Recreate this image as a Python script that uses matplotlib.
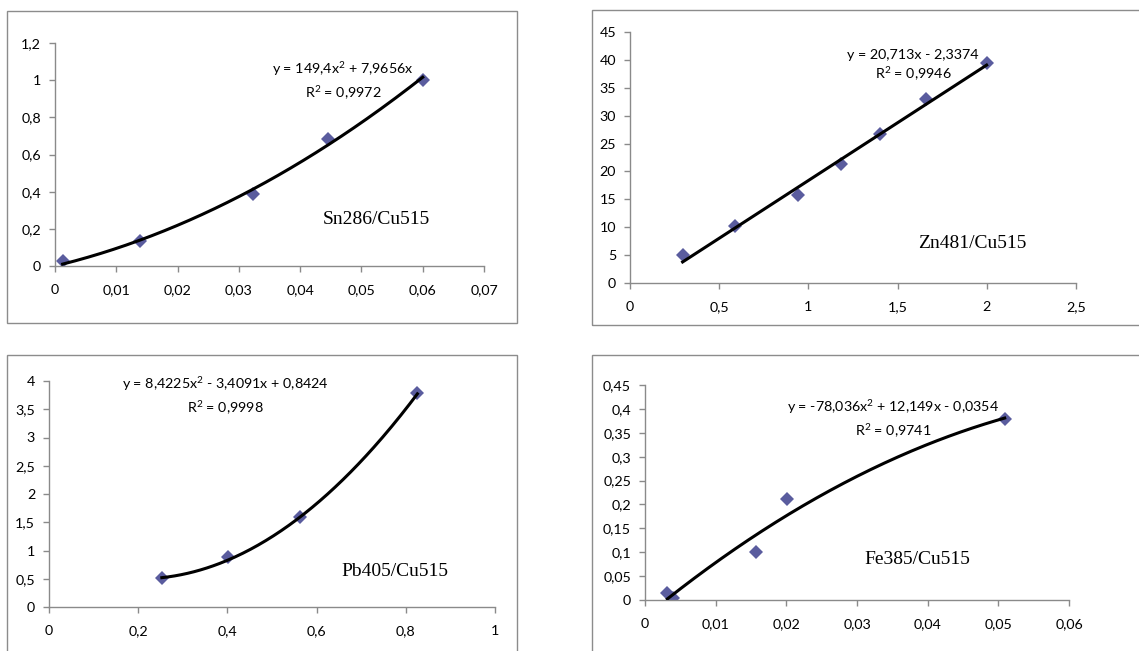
import numpy as np
import matplotlib
matplotlib.use("Agg")
import matplotlib.pyplot as plt
from matplotlib.patches import Rectangle

# ---------------- data ----------------
sn_x = [0.00125, 0.0139, 0.0323, 0.0445, 0.0600]
sn_y = [0.025, 0.135, 0.387, 0.682, 1.000]
sn_coef = [149.4, 7.9656, 0.0]
sn_eq = "y = 149,4x$^{2}$ + 7,9656x"
sn_r2 = "R$^{2}$ = 0,9972"
sn_label = "Sn286/Cu515"
sn_xticks = [0, 0.01, 0.02, 0.03, 0.04, 0.05, 0.06, 0.07]
sn_xlabels = ["0", "0,01", "0,02", "0,03", "0,04", "0,05", "0,06", "0,07"]
sn_yticks = [0, 0.2, 0.4, 0.6, 0.8, 1.0, 1.2]
sn_ylabels = ["0", "0,2", "0,4", "0,6", "0,8", "1", "1,2"]

zn_x = [0.295, 0.589, 0.944, 1.181, 1.401, 1.659, 1.999]
zn_y = [5.08, 10.16, 15.84, 21.28, 26.78, 32.93, 39.45]
zn_coef = [20.713, -2.3374]
zn_eq = "y = 20,713x - 2,3374"
zn_r2 = "R$^{2}$ = 0,9946"
zn_label = "Zn481/Cu515"
zn_xticks = [0, 0.5, 1, 1.5, 2, 2.5]
zn_xlabels = ["0", "0,5", "1", "1,5", "2", "2,5"]
zn_yticks = [0, 5, 10, 15, 20, 25, 30, 35, 40, 45]
zn_ylabels = ["0", "5", "10", "15", "20", "25", "30", "35", "40", "45"]

pb_x = [0.253, 0.401, 0.562, 0.826]
pb_y = [0.51, 0.888, 1.60, 3.79]
pb_coef = [8.4225, -3.4091, 0.8424]
pb_eq = "y = 8,4225x$^{2}$ - 3,4091x + 0,8424"
pb_r2 = "R$^{2}$ = 0,9998"
pb_label = "Pb405/Cu515"
pb_xticks = [0, 0.2, 0.4, 0.6, 0.8, 1.0]
pb_xlabels = ["0", "0,2", "0,4", "0,6", "0,8", "1"]
pb_yticks = [0, 0.5, 1, 1.5, 2, 2.5, 3, 3.5, 4]
pb_ylabels = ["0", "0,5", "1", "1,5", "2", "2,5", "3", "3,5", "4"]

fe_x = [0.00316, 0.0040, 0.0157, 0.0201, 0.0509]
fe_y = [0.014, 0.0035, 0.0998, 0.211, 0.379]
fe_coef = [-78.036, 12.149, -0.0354]
fe_eq = "y = -78,036x$^{2}$ + 12,149x - 0,0354"
fe_r2 = "R$^{2}$ = 0,9741"
fe_label = "Fe385/Cu515"
fe_xticks = [0, 0.01, 0.02, 0.03, 0.04, 0.05, 0.06]
fe_xlabels = ["0", "0,01", "0,02", "0,03", "0,04", "0,05", "0,06"]
fe_yticks = [0, 0.05, 0.1, 0.15, 0.2, 0.25, 0.3, 0.35, 0.4, 0.45]
fe_ylabels = ["0", "0,05", "0,1", "0,15", "0,2", "0,25", "0,3", "0,35", "0,4", "0,45"]

# ---------------- figure ----------------
W, H = 1139, 651
plt.rcParams["mathtext.fontset"] = "custom"
plt.rcParams["mathtext.rm"] = "Lato"
plt.rcParams["mathtext.it"] = "Lato"
plt.rcParams["mathtext.default"] = "regular"
fig = plt.figure(figsize=(W / 100, H / 100), dpi=100)
fig.patch.set_facecolor("white")

def fx(px):
    return px / W

def fy(py):
    return 1 - py / H

# outer chart frames (pixel boxes: left, top, right, bottom)
frames = [(7, 11, 517, 323), (592, 10, 1160, 325), (7, 355, 517, 680), (592, 355, 1160, 680)]
for l, t, r, b in frames:
    fig.patches.append(Rectangle((fx(l), fy(b)), fx(r) - fx(l), fy(t) - fy(b),
                                 transform=fig.transFigure, fill=False,
                                 edgecolor="#8c8c8c", linewidth=1.0, zorder=0))

TICK_FONT = "Lato"
GRAY = "#8a8a8a"
MARK = "#5a5c9e"
FS = 10.3

panels = [
    dict(box=(55, 43, 484, 266), x=sn_x, y=sn_y, coef=sn_coef, eq=sn_eq, r2=sn_r2, label=sn_label,
         xt=sn_xticks, xl=sn_xlabels, yt=sn_yticks, yl=sn_ylabels,
         eqpos=(343, 69), r2pos=(343, 93), labpos=(376, 220)),
    dict(box=(630, 32, 1076, 283), x=zn_x, y=zn_y, coef=zn_coef, eq=zn_eq, r2=zn_r2, label=zn_label,
         xt=zn_xticks, xl=zn_xlabels, yt=zn_yticks, yl=zn_ylabels,
         eqpos=(913, 55), r2pos=(913, 74), labpos=(972, 243)),
    dict(box=(49, 381, 495, 607), x=pb_x, y=pb_y, coef=pb_coef, eq=pb_eq, r2=pb_r2, label=pb_label,
         xt=pb_xticks, xl=pb_xlabels, yt=pb_yticks, yl=pb_ylabels,
         eqpos=(225, 384), r2pos=(225, 408), labpos=(395, 572)),
    dict(box=(645, 385, 1069, 600), x=fe_x, y=fe_y, coef=fe_coef, eq=fe_eq, r2=fe_r2, label=fe_label,
         xt=fe_xticks, xl=fe_xlabels, yt=fe_yticks, yl=fe_ylabels,
         eqpos=(893, 407), r2pos=(893, 431), labpos=(917, 559)),
]

for p in panels:
    l, t, r, b = p["box"]
    ax = fig.add_axes([fx(l), fy(b), fx(r) - fx(l), fy(t) - fy(b)])
    ax.set_facecolor("none")
    xs = np.linspace(min(p["x"]), max(p["x"]), 200)
    ax.plot(xs, np.polyval(p["coef"], xs), color="black", linewidth=2.2, zorder=3)
    ax.plot(p["x"], p["y"], linestyle="none", marker="D", markersize=7,
            color=MARK, markeredgewidth=0, zorder=2)
    ax.set_xlim(p["xt"][0], p["xt"][-1])
    ax.set_ylim(p["yt"][0], p["yt"][-1])
    ax.set_xticks(p["xt"])
    ax.set_xticklabels(p["xl"], fontfamily=TICK_FONT, fontsize=FS)
    ax.set_yticks(p["yt"])
    ax.set_yticklabels(p["yl"], fontfamily=TICK_FONT, fontsize=FS)
    for s in ("top", "right"):
        ax.spines[s].set_visible(False)
    for s in ("left", "bottom"):
        ax.spines[s].set_color(GRAY)
        ax.spines[s].set_linewidth(1.0)
    ax.tick_params(axis="both", direction="out", length=4, width=1.0, color=GRAY, pad=6)
    ax.tick_params(axis="x", pad=9)

    fig.text(fx(p["eqpos"][0]), fy(p["eqpos"][1]), p["eq"], ha="center", va="center",
             fontfamily=TICK_FONT, fontsize=FS)
    fig.text(fx(p["r2pos"][0]), fy(p["r2pos"][1]), p["r2"], ha="center", va="center",
             fontfamily=TICK_FONT, fontsize=FS)
    fig.text(fx(p["labpos"][0]), fy(p["labpos"][1]), p["label"], ha="center", va="center",
             fontfamily="Liberation Serif", fontsize=14)

fig.savefig("out.png", dpi=100, facecolor="white")
